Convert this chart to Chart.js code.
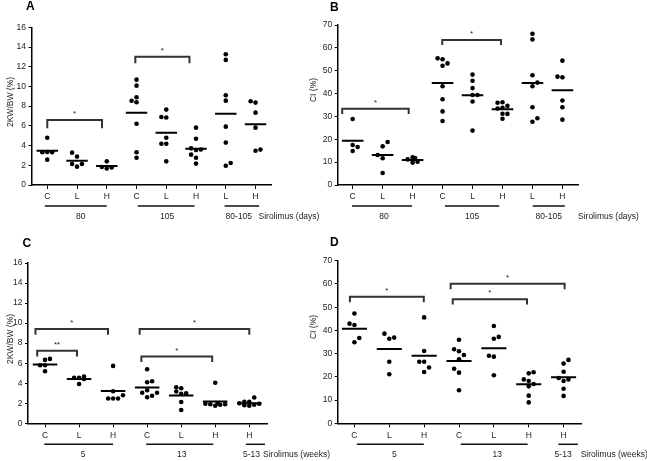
<!DOCTYPE html>
<html>
<head>
<meta charset="utf-8">
<title>Sirolimus dot plots</title>
<script src="https://cdn.jsdelivr.net/npm/chart.js@4.4.1/dist/chart.umd.min.js"></script>
<style>
    html, body { margin: 0; padding: 0; background: #fff; }
    #page { position: relative; width: 647px; height: 461px; overflow: hidden; }
    canvas { position: absolute; }
</style>
</head>
<body>
<div id="page">
    <canvas id="chartA" width="330" height="230" style="left:0;top:0"></canvas>
    <canvas id="chartB" width="347" height="230" style="left:300px;top:0"></canvas>
    <canvas id="chartC" width="335" height="229" style="left:0;top:232px"></canvas>
    <canvas id="chartD" width="347" height="229" style="left:300px;top:232px"></canvas>
</div>
<script>
'use strict';

// categories
var dayGroups = ['C', 'L', 'H', 'C', 'L', 'H', 'L', 'H'];
var weekGroups = ['C', 'L', 'H', 'C', 'L', 'H', 'H'];
var dayBands = ['80', '105', '80-105'];
var weekBands = ['5', '13', '5-13'];

// A: 2KW/BW (%), sirolimus in days
var kwDays = [
    [4.8, 3.32, 3.35, 3.32, 2.57],
    [3.28, 2.88, 2.13, 2.13, 1.86],
    [2.4, 1.82, 1.68, 1.78],
    [10.69, 10.08, 8.9, 8.55, 8.4, 6.22, 3.32, 2.77],
    [7.65, 6.9, 6.85, 4.8, 4.19, 4.19, 2.4],
    [5.82, 4.7, 3.72, 3.55, 3.6, 3.08, 2.77, 2.17],
    [13.26, 12.69, 9.1, 8.56, 5.92, 4.3, 1.96, 2.23],
    [8.49, 8.36, 7.34, 5.82, 3.48, 3.59]
];
var kwDaysMeans = [3.48, 2.47, 1.93, 7.34, 5.31, 3.69, 7.24, 6.16];

// B: CI (%), sirolimus in days
var ciDays = [
    [28.9, 17.5, 16.6, 14.9],
    [18.8, 16.9, 13.1, 11.7, 5.25],
    [11.2, 12.1, 11.8, 9.8, 10.2],
    [55.4, 55.0, 52.2, 53.2, 43.2, 37.5, 32.2, 28.0],
    [48.3, 45.6, 42.4, 39.4, 39.4, 36.5, 23.8],
    [36.0, 36.2, 34.6, 33.5, 33.8, 31.2, 31.1, 29.0],
    [66.2, 63.7, 48.0, 44.8, 43.2, 34.0, 27.7, 29.2],
    [54.4, 47.4, 47.1, 37.0, 34.0, 28.6]
];
var ciDaysMeans = [19.4, 13.1, 10.9, 44.6, 39.3, 33.1, 44.6, 41.4];

// C: 2KW/BW (%), sirolimus in weeks
var kwWeeks = [
    [6.33, 6.43, 5.8, 5.8, 5.2],
    [4.53, 4.53, 4.67, 4.42, 3.93],
    [5.73, 3.2, 2.47, 2.47, 2.47, 2.8],
    [5.4, 4.1, 4.2, 3.05, 3.3, 3.05, 2.6, 2.75],
    [3.6, 3.5, 3.17, 2.95, 3.0, 2.13, 1.33],
    [4.05, 1.95, 1.9, 1.75, 2.0, 1.85, 1.9],
    [2.57, 2.15, 2.15, 2.0, 1.8, 1.75, 1.85, 1.95]
];
var kwWeeksMeans = [5.87, 4.43, 3.23, 3.57, 2.77, 2.17, 2.0];

// D: CI (%), sirolimus in weeks
var ciWeeks = [
    [47.3, 42.9, 42.3, 36.7, 34.9],
    [38.6, 36.4, 36.9, 26.5, 21.1],
    [45.6, 31.1, 26.5, 26.5, 24.0, 22.1],
    [36.0, 31.9, 31.0, 29.4, 27.5, 23.5, 21.8, 14.2],
    [41.9, 36.4, 37.2, 29.1, 28.7, 20.7],
    [21.5, 22.0, 18.9, 18.2, 16.9, 15.9, 11.9, 9.0],
    [27.3, 25.7, 22.2, 19.5, 18.2, 18.9, 14.9, 11.8]
];
var ciWeeksMeans = [40.7, 32.0, 29.1, 26.8, 32.3, 16.8, 19.8];

// horizontal slot of every dot inside its column (dot plot spread)
var slotsA = [[0, -1, 0, 1, 0], [-1, 0, -1, 1, 0], [0, -1, 0, 1], [0, 0, 0, -1, 0, 0, 0, 0],
    [0, -1, 0, 0, -1, 0, 0], [0, 0, -1, 0, 1, -1, 0, 0], [0, 0, 0, 0, 0, 0, 0, 1], [-1, 0, 0, 0, 0, 1]];
var slotsB = [[0, 0, 1, 0], [1, 0, -1, 0, 0], [-1, 0, 0.5, 0, 1], [-1, 0, 0, 1, 0, 0, 0, 0],
    [0, 0, 0, 0, 1, 0, 0], [-1, 0, 1, -1, 0, 0, 1, 0], [0, 0, 0, 1, 0, 0, 0, 1], [0, -1, 0, 0, 0, 0]];
var slotsC = [[0, 1, -1, 0, 0], [-1, 0, 1, 1, 0], [0, 0, -1, 0, 1, 2], [0, 0, 1, -1, 0, 2, 0, 1],
    [-1, 0, -1, 0, 1, 0, 0], [0, -2, -1, 0, 0.5, 1, 2], [1, -1, 0, -2, -1, 0, 1, 2]];
var slotsD = [[0, -1, 0, 1, 0], [-1, 0, 1, 0, 0], [0, 0, -1, 0, 1, 0], [0, -1, 0, 1, 0, -1, 0, 0],
    [0, 0, 1, -1, 0, 0], [0, 1, -1, 0, 1, 0, 0, 0], [1, 0, 0, -1, 0, 1, 0, 0]];

var FONT = '"Liberation Sans", Arial, Helvetica, sans-serif';
Chart.defaults.font.family = FONT;
Chart.defaults.font.size = 8.5;

var panelDecor = {
    id: 'panelDecor',
    afterDraw: function (chart) {
        var o = chart.options.plugins.panelDecor;
        var ctx = chart.ctx;
        var area = chart.chartArea;
        var xs = chart.scales.x;
        var ys = chart.scales.y;

        ctx.save();

        ctx.fillStyle = '#000';
        ctx.font = 'bold 12px ' + FONT;
        ctx.textAlign = 'left';
        ctx.textBaseline = 'alphabetic';
        ctx.fillText(o.letter, o.letterPos[0], o.letterPos[1]);

        ctx.fillStyle = '#222';
        ctx.font = '8.5px ' + FONT;
        ctx.save();
        ctx.translate(o.titlePos[0], o.titlePos[1]);
        ctx.rotate(-Math.PI / 2);
        ctx.textAlign = 'center';
        ctx.textBaseline = 'middle';
        ctx.fillText(o.yTitle, 0, 0);
        ctx.restore();

        // significance marks above the brackets
        ctx.font = '8px ' + FONT;
        ctx.textAlign = 'center';
        ctx.textBaseline = 'top';
        o.brackets.forEach(function (b) {
            ctx.fillText(b.label, xs.getPixelForValue((b.from + b.to) / 2), ys.getPixelForValue(b.y) - 10);
        });

        // time bands under the axis
        ctx.font = '8.5px ' + FONT;
        ctx.textBaseline = 'middle';
        ctx.strokeStyle = '#111';
        ctx.lineWidth = 1.5;
        o.bands.forEach(function (b, i) {
            var x0 = xs.getPixelForValue(o.bandSpans[i][0]);
            var x1 = xs.getPixelForValue(o.bandSpans[i][1]);
            var y = area.bottom + 21;
            ctx.beginPath();
            ctx.moveTo(x0, y);
            ctx.lineTo(x1, y);
            ctx.stroke();
            ctx.fillText(b, (x0 + x1) / 2 + o.bandLabelDx[i], area.bottom + 31.5);
        });

        ctx.textAlign = 'left';
        ctx.fillText(o.unit, area.right + o.unitDx, area.bottom + 31.5);

        ctx.restore();
    }
};

function buildPanel(id, p) {
    var dots = [];
    p.values.forEach(function (group, i) {
        group.forEach(function (v, j) {
            dots.push({ x: i + p.slots[i][j] * p.slotStep, y: v });
        });
    });

    var datasets = [{
        data: dots,
        pointRadius: 2.3,
        pointBackgroundColor: '#000',
        pointBorderWidth: 0,
        showLine: false
    }];

    p.means.forEach(function (m, i) {
        datasets.push({
            data: [{ x: i - 0.36, y: m }, { x: i + 0.36, y: m }],
            showLine: true, borderColor: '#000', borderWidth: 2, pointRadius: 0
        });
    });

    p.brackets.forEach(function (b) {
        datasets.push({
            data: [{ x: b.from, y: b.drop }, { x: b.from, y: b.y }, { x: b.to, y: b.y }, { x: b.to, y: b.drop }],
            showLine: true, borderColor: '#333', borderWidth: 2, pointRadius: 0, borderJoinStyle: 'miter'
        });
    });

    var axisGrid = { display: true, drawOnChartArea: false, drawTicks: true, color: '#000', lineWidth: 1 };
    var axisBorder = { display: true, color: '#000', width: 1.5 };

    new Chart(document.getElementById(id), {
        type: 'scatter',
        data: { datasets: datasets },
        plugins: [panelDecor],
        options: {
            responsive: false,
            animation: false,
            devicePixelRatio: 1,
            events: [],
            layout: { padding: { left: 0, top: p.padTop, right: p.padRight, bottom: 0 } },
            plugins: {
                legend: { display: false },
                tooltip: { enabled: false },
                panelDecor: {
                    letter: p.letter, letterPos: p.letterPos,
                    yTitle: p.yTitle, titlePos: p.titlePos,
                    brackets: p.brackets,
                    bands: p.bands, bandSpans: p.bandSpans, bandLabelDx: p.bandLabelDx,
                    unit: p.unit, unitDx: p.unitDx
                }
            },
            scales: {
                x: {
                    type: 'linear',
                    min: p.xMin,
                    max: p.groups.length - 0.48,
                    afterBuildTicks: function (scale) {
                        scale.ticks = p.groups.map(function (g, i) { return { value: i }; });
                    },
                    afterFit: function (scale) { scale.height = p.axisH; },
                    ticks: {
                        autoSkip: false, maxRotation: 0, padding: 3, color: '#222',
                        callback: function (v) { return p.groups[Math.round(v)]; }
                    },
                    grid: Object.assign({ tickLength: 4 }, axisGrid),
                    border: axisBorder
                },
                y: {
                    min: 0,
                    max: p.yMax,
                    afterFit: function (scale) { scale.width = p.axisW; },
                    ticks: { stepSize: p.yStep, padding: 2.5, color: '#222' },
                    grid: Object.assign({ tickLength: 3 }, axisGrid),
                    border: axisBorder
                }
            }
        }
    });
}

buildPanel('chartA', {
    letter: 'A', letterPos: [26, 10],
    yTitle: '2KW/BW (%)', titlePos: [11, 102],
    groups: dayGroups, values: kwDays, means: kwDaysMeans, slots: slotsA, slotStep: 0.165,
    yMax: 16, yStep: 2, xMin: -0.53,
    padTop: 27.3, padRight: 59, axisW: 31.5, axisH: 45,
    brackets: [
        { from: 0, to: 1.84, y: 6.6, drop: 5.75, label: '*' },
        { from: 2.96, to: 4.78, y: 13.0, drop: 12.35, label: '*' }
    ],
    bands: dayBands, bandSpans: [[-0.08, 2.0], [3.04, 4.95], [5.96, 7.12]], bandLabelDx: [5, 1, -3],
    unit: 'Sirolimus (days)', unitDx: -12.5
});

buildPanel('chartB', {
    letter: 'B', letterPos: [30, 10.5],
    yTitle: 'CI (%)', titlePos: [13.5, 90],
    groups: dayGroups, values: ciDays, means: ciDaysMeans, slots: slotsB, slotStep: 0.165,
    yMax: 70, yStep: 10, xMin: -0.5,
    padTop: 25, padRight: 69, axisW: 37.7, axisH: 45,
    brackets: [
        { from: -0.35, to: 1.87, y: 33.4, drop: 31.1, label: '*' },
        { from: 2.99, to: 4.95, y: 63.4, drop: 61.3, label: '*' }
    ],
    bands: dayBands, bandSpans: [[-0.02, 1.98], [3.08, 4.89], [6.01, 7.08]], bandLabelDx: [2, 0, 0],
    unit: 'Sirolimus (days)', unitDx: 0
});

buildPanel('chartC', {
    letter: 'C', letterPos: [22.5, 14.7],
    yTitle: '2KW/BW (%)', titlePos: [11, 107],
    groups: weekGroups, values: kwWeeks, means: kwWeeksMeans, slots: slotsC, slotStep: 0.145,
    yMax: 16, yStep: 2, xMin: -0.5,
    padTop: 31, padRight: 68, axisW: 28, axisH: 37.7,
    brackets: [
        { from: -0.23, to: 0.94, y: 7.23, drop: 6.67, label: '**' },
        { from: -0.28, to: 1.85, y: 9.4, drop: 8.83, label: '*' },
        { from: 2.83, to: 4.91, y: 6.67, drop: 6.13, label: '*' },
        { from: 2.78, to: 6.0, y: 9.4, drop: 8.83, label: '*' }
    ],
    bands: weekBands, bandSpans: [[-0.02, 2.0], [2.97, 4.94], [5.9, 6.46]], bandLabelDx: [4.5, 2, -4],
    unit: 'Sirolimus (weeks)', unitDx: -4
});

buildPanel('chartD', {
    letter: 'D', letterPos: [30, 14],
    yTitle: 'CI (%)', titlePos: [13.5, 95],
    groups: weekGroups, values: ciWeeks, means: ciWeeksMeans, slots: slotsD, slotStep: 0.14,
    yMax: 70, yStep: 10, xMin: -0.48,
    padTop: 28.7, padRight: 65.3, axisW: 37.7, axisH: 37.7,
    brackets: [
        { from: -0.13, to: 1.99, y: 54.5, drop: 52.1, label: '*' },
        { from: 2.76, to: 6.03, y: 60.1, drop: 57.7, label: '*' },
        { from: 2.82, to: 4.95, y: 53.4, drop: 51.1, label: '*' }
    ],
    bands: weekBands, bandSpans: [[0.07, 1.99], [3.05, 4.97], [5.85, 6.41]], bandLabelDx: [4, 3, -5],
    unit: 'Sirolimus (weeks)', unitDx: -1
});
</script>
</body>
</html>
